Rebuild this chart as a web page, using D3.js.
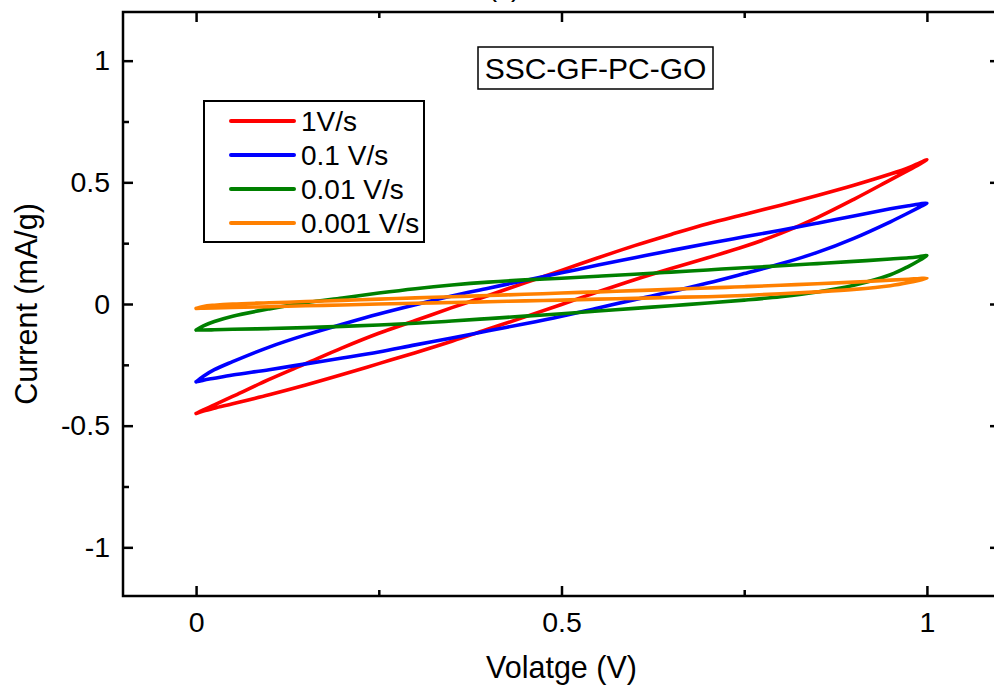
<!DOCTYPE html>
<html>
<head>
<meta charset="utf-8">
<script src="https://cdn.jsdelivr.net/npm/d3@7/dist/d3.min.js"></script>
<style>
  html, body { margin: 0; padding: 0; background: #fff; }
  svg { display: block; font-family: "Liberation Sans", Arial, sans-serif; }
</style>
</head>
<body>
<svg id="chart" width="994" height="692"></svg>
<script>
// Shared voltage grid (V) for every sweep
const voltage = [0, 0.01, 0.025, 0.05, 0.1, 0.15, 0.2, 0.25, 0.3, 0.35, 0.4, 0.45, 0.5,
                 0.55, 0.6, 0.65, 0.7, 0.75, 0.8, 0.85, 0.9, 0.95, 0.975, 0.99, 1.0];

// Current (mA/g) on the anodic (forward) and cathodic (reverse) branches
const fwd1 = [-0.45, -0.435, -0.415, -0.38, -0.31, -0.245, -0.18, -0.12, -0.068, -0.015, 0.035, 0.087, 0.138,
              0.19, 0.24, 0.286, 0.33, 0.368, 0.406, 0.446, 0.488, 0.534, 0.56, 0.58, 0.593];
const rev1 = [-0.45, -0.44, -0.428, -0.41, -0.373, -0.333, -0.29, -0.245, -0.2, -0.153, -0.103, -0.053, -0.002,
              0.05, 0.1, 0.146, 0.19, 0.236, 0.29, 0.355, 0.43, 0.51, 0.55, 0.575, 0.593];

const fwd01 = [-0.32, -0.297, -0.27, -0.237, -0.177, -0.127, -0.083, -0.041, -0.003, 0.033, 0.065, 0.097, 0.128,
               0.16, 0.19, 0.22, 0.249, 0.276, 0.303, 0.332, 0.362, 0.391, 0.404, 0.411, 0.414];
const rev01 = [-0.32, -0.313, -0.305, -0.292, -0.27, -0.246, -0.222, -0.197, -0.168, -0.14, -0.11, -0.081, -0.05,
               -0.016, 0.018, 0.05, 0.086, 0.125, 0.165, 0.212, 0.27, 0.338, 0.375, 0.398, 0.414];

const fwd001 = [-0.107, -0.09, -0.072, -0.05, -0.02, 0.005, 0.025, 0.045, 0.063, 0.078, 0.09, 0.099, 0.106,
                0.114, 0.122, 0.131, 0.14, 0.149, 0.157, 0.166, 0.175, 0.185, 0.19, 0.195, 0.199];
const rev001 = [-0.107, -0.107, -0.106, -0.104, -0.101, -0.097, -0.092, -0.086, -0.079, -0.07, -0.06, -0.05, -0.04,
                -0.029, -0.018, -0.007, 0.004, 0.016, 0.03, 0.049, 0.077, 0.12, 0.155, 0.18, 0.199];

const fwd0001 = [-0.018, -0.01, -0.005, 0.0, 0.005, 0.01, 0.015, 0.02, 0.025, 0.03, 0.035, 0.04, 0.045,
                 0.05, 0.055, 0.06, 0.066, 0.071, 0.077, 0.083, 0.09, 0.098, 0.102, 0.105, 0.106];
const rev0001 = [-0.018, -0.017, -0.016, -0.014, -0.011, -0.007, -0.004, 0.0, 0.003, 0.006, 0.009, 0.013, 0.016,
                 0.02, 0.023, 0.027, 0.03, 0.035, 0.042, 0.05, 0.06, 0.075, 0.088, 0.098, 0.106];

const seriesNames = ["1V/s", "0.1 V/s", "0.01 V/s", "0.001 V/s"];
const seriesColors = ["#ff0000", "#0000ff", "#008000", "#ff8000"];
const forwardSweeps = [fwd1, fwd01, fwd001, fwd0001];
const reverseSweeps = [rev1, rev01, rev001, rev0001];

const xMajorTicks = [0, 0.5, 1];
const xMinorTicks = [0.25, 0.75];
const yMajorTicks = [-1, -0.5, 0, 0.5, 1];
const yMinorTicks = [-0.75, -0.25, 0.25, 0.75];

const xLabel = "Volatge (V)";
const yLabel = "Current (mA/g)";
const sampleLabel = "SSC-GF-PC-GO";
const panelLabel = "(c)";

// ---- layout ----
const svg = d3.select("#chart");
const plot = { left: 123, right: 1000, top: 12, bottom: 596 };

const x = d3.scaleLinear().domain([-0.1, 1.1]).range([plot.left, plot.right]);
const y = d3.scaleLinear().domain([-1.2, 1.2]).range([plot.bottom, plot.top]);

// plain hyphen for negatives
const fmt = d => String(d);
const tickFont = 28.5;

function styleAxis(g) {
  g.select(".domain").remove();
  g.selectAll(".tick line").attr("stroke", "#000").attr("stroke-width", 2.5);
  g.selectAll(".tick text").attr("fill", "#000").attr("font-size", tickFont)
    .attr("font-family", "Liberation Sans, Arial, sans-serif");
}

// bottom
svg.append("g").attr("transform", `translate(0,${plot.bottom})`)
  .call(d3.axisBottom(x).tickValues(xMajorTicks).tickSize(-10).tickPadding(16).tickFormat(fmt))
  .call(styleAxis);
svg.append("g").attr("transform", `translate(0,${plot.bottom})`)
  .call(d3.axisBottom(x).tickValues(xMinorTicks).tickSize(-6).tickFormat(""))
  .call(styleAxis);
// top
svg.append("g").attr("transform", `translate(0,${plot.top})`)
  .call(d3.axisTop(x).tickValues(xMajorTicks).tickSize(-10).tickFormat(""))
  .call(styleAxis);
svg.append("g").attr("transform", `translate(0,${plot.top})`)
  .call(d3.axisTop(x).tickValues(xMinorTicks).tickSize(-6).tickFormat(""))
  .call(styleAxis);
// left
svg.append("g").attr("transform", `translate(${plot.left},0)`)
  .call(d3.axisLeft(y).tickValues(yMajorTicks).tickSize(-10).tickPadding(13).tickFormat(fmt))
  .call(styleAxis);
svg.append("g").attr("transform", `translate(${plot.left},0)`)
  .call(d3.axisLeft(y).tickValues(yMinorTicks).tickSize(-6).tickFormat(""))
  .call(styleAxis);
// right
svg.append("g").attr("transform", `translate(${plot.right},0)`)
  .call(d3.axisRight(y).tickValues(yMajorTicks).tickSize(-10).tickFormat(""))
  .call(styleAxis);
svg.append("g").attr("transform", `translate(${plot.right},0)`)
  .call(d3.axisRight(y).tickValues(yMinorTicks).tickSize(-6).tickFormat(""))
  .call(styleAxis);

// frame
svg.append("rect")
  .attr("x", plot.left).attr("y", plot.top)
  .attr("width", plot.right - plot.left).attr("height", plot.bottom - plot.top)
  .attr("fill", "none").attr("stroke", "#000").attr("stroke-width", 2.5);

// ---- CV loops ----
const line = d3.line()
  .x(d => x(d[0]))
  .y(d => y(d[1]))
  .curve(d3.curveCatmullRom.alpha(0.5));

const loops = svg.append("g");
seriesNames.forEach((name, i) => {
  const up = voltage.map((v, k) => [v, forwardSweeps[i][k]]);
  const down = voltage.map((v, k) => [v, reverseSweeps[i][k]]).reverse();
  const pts = up.concat(down.slice(1));
  loops.append("path")
    .attr("d", line(pts))
    .attr("fill", "none")
    .attr("stroke", seriesColors[i])
    .attr("stroke-width", 3.6)
    .attr("stroke-linejoin", "round")
    .attr("stroke-linecap", "round");
});

// ---- axis titles ----
svg.append("text")
  .attr("x", x(0.5)).attr("y", 678)
  .attr("text-anchor", "middle").attr("font-size", 30.5)
  .text(xLabel);

svg.append("text")
  .attr("transform", `translate(37,${y(0)}) rotate(-90)`)
  .attr("text-anchor", "middle").attr("font-size", 30.5)
  .text(yLabel);

// panel letter, mostly above the canvas
svg.append("text")
  .attr("x", 504).attr("y", -4)
  .attr("text-anchor", "middle").attr("font-size", 28)
  .text(panelLabel);

// ---- sample name box ----
const tb = svg.append("g");
tb.append("rect")
  .attr("x", 478).attr("y", 47).attr("width", 235).attr("height", 42)
  .attr("fill", "#fff").attr("stroke", "#000").attr("stroke-width", 1.5);
tb.append("text")
  .attr("x", 595.5).attr("y", 79)
  .attr("text-anchor", "middle").attr("font-size", 30)
  .text(sampleLabel);

// ---- legend ----
const lg = svg.append("g");
lg.append("rect")
  .attr("x", 204).attr("y", 101).attr("width", 220).attr("height", 141)
  .attr("fill", "#fff").attr("stroke", "#000").attr("stroke-width", 2);
seriesNames.forEach((name, i) => {
  const yy = 121 + i * 34;
  lg.append("line")
    .attr("x1", 231).attr("x2", 294).attr("y1", yy).attr("y2", yy)
    .attr("stroke", seriesColors[i]).attr("stroke-width", 4)
    .attr("stroke-linecap", "round");
  lg.append("text")
    .attr("x", 301).attr("y", yy + 10)
    .attr("font-size", 28)
    .text(name);
});
</script>
</body>
</html>
